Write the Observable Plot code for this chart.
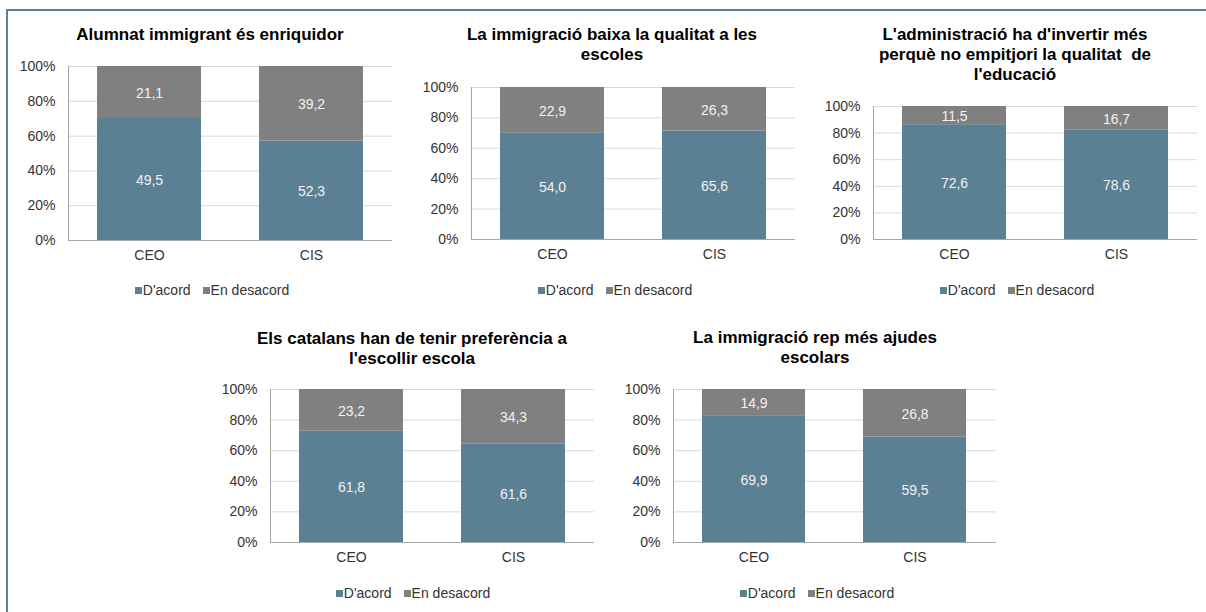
<!DOCTYPE html>
<html><head><meta charset="utf-8">
<script src="https://cdn.jsdelivr.net/npm/d3@7"></script>
<script src="https://cdn.jsdelivr.net/npm/@observablehq/plot@0.6"></script>
<style>
body{margin:0;background:#fff;font-family:"Liberation Sans",Arial,sans-serif;}
#root{position:relative;width:1206px;height:612px;overflow:hidden;background:#fff;}
.frame{position:absolute;left:6px;top:9px;width:1300px;height:700px;border-left:2px solid #5f8193;border-top:2px solid #5f8193;}
.title{position:absolute;width:440px;text-align:center;font-weight:bold;font-size:17px;line-height:20px;color:#000;white-space:pre;}
.legend{position:absolute;width:300px;text-align:center;font-size:14px;color:#333;line-height:16px;white-space:nowrap;}
.sw{display:inline-block;width:7px;height:7px;margin-right:1px;vertical-align:1px;}
.item{margin:0 6px;}
.chart{position:absolute;}
</style></head><body><div id="root"><div class="frame"></div></div>
<script>
const categories = ["CEO", "CIS"];
const series = ["D'acord", "En desacord"];
const colors = ["#5b7f93", "#808080"];
const titles = [
  "Alumnat immigrant és enriquidor",
  "La immigració baixa la qualitat a les\nescoles",
  "L'administració ha d'invertir més\nperquè no empitjori la qualitat  de\nl'educació",
  "Els catalans han de tenir preferència a\nl'escollir escola",
  "La immigració rep més ajudes\nescolars"
];
// values per panel: [CEO, CIS]
const acord    = [[49.5, 52.3], [54.0, 65.6], [72.6, 78.6], [61.8, 61.6], [69.9, 59.5]];
const desacord = [[21.1, 39.2], [22.9, 26.3], [11.5, 16.7], [23.2, 34.3], [14.9, 26.8]];
const yTicks = [0, 0.2, 0.4, 0.6, 0.8, 1];

// layout: plot frame left, right, top (100%), bottom (0%); title center x/top; legend center x/y
const layout = [
  {L: 68,  R: 392,  T: 66,  B: 240, tx: 210, ty: 25,  lx: 212, ly: 290},
  {L: 471, R: 795,  T: 87,  B: 239, tx: 612, ty: 25,  lx: 615, ly: 290},
  {L: 873, R: 1197, T: 106, B: 239, tx: 1015, ty: 25, lx: 1017, ly: 290},
  {L: 270, R: 594,  T: 389, B: 542, tx: 412, ty: 329, lx: 413, ly: 593},
  {L: 673, R: 996,  T: 389, B: 542, tx: 815, ty: 328, lx: 817, ly: 593}
];

const fmt = v => v.toFixed(1).replace(".", ",");
const root = document.getElementById("root");

titles.forEach((title, i) => {
  const g = layout[i];
  const rows = [];
  categories.forEach((c, j) => {
    rows.push({cat: c, series: series[0], value: acord[i][j]});
    rows.push({cat: c, series: series[1], value: desacord[i][j]});
  });
  const mL = 50, mR = 2, mT = 8, mB = 30;
  const chart = Plot.plot({
    width: g.R - g.L + mL + mR,
    height: g.B - g.T + mT + mB,
    marginLeft: mL, marginRight: mR, marginTop: mT, marginBottom: mB,
    style: {fontFamily: "'Liberation Sans', Arial, sans-serif", fontSize: "14px", color: "#333", background: "transparent", overflow: "visible"},
    x: {domain: categories, paddingInner: 0.358, paddingOuter: 0.179, label: null},
    y: {domain: [0, 1], label: null},
    color: {domain: series, range: colors},
    marks: [
      Plot.ruleY(yTicks.slice(1), {stroke: "#d9d9d9"}),
      Plot.barY(rows, Plot.stackY({x: "cat", y: "value", fill: "series", offset: "normalize"})),
      Plot.text(rows, Plot.stackY({x: "cat", y: "value", z: "series", text: d => fmt(d.value), fill: "#f2f2f2", fontSize: 14, offset: "normalize", dy: 1})),
      Plot.ruleY([0], {stroke: "#a6a6a6"}),
      Plot.frame({anchor: "left", stroke: "#a6a6a6"}),
      Plot.axisY({ticks: yTicks, tickFormat: d => Math.round(d * 100) + "%", tickSize: 0, tickPadding: 13, fontSize: 14, label: null}),
      Plot.axisX({tickSize: 0, tickPadding: 10, fontSize: 14, label: null})
    ]
  });
  chart.classList.add("chart");
  chart.style.left = (g.L - mL) + "px";
  chart.style.top = (g.T - mT) + "px";
  root.appendChild(chart);

  const t = document.createElement("div");
  t.className = "title";
  t.textContent = title;
  t.style.left = (g.tx - 220) + "px";
  t.style.top = g.ty + "px";
  root.appendChild(t);

  const lg = document.createElement("div");
  lg.className = "legend";
  lg.style.left = (g.lx - 150) + "px";
  lg.style.top = (g.ly - 8) + "px";
  series.forEach((s, k) => {
    const it = document.createElement("span");
    it.className = "item";
    const sw = document.createElement("span");
    sw.className = "sw";
    sw.style.background = colors[k];
    it.appendChild(sw);
    it.appendChild(document.createTextNode(s));
    lg.appendChild(it);
  });
  root.appendChild(lg);
});
</script></body></html>
